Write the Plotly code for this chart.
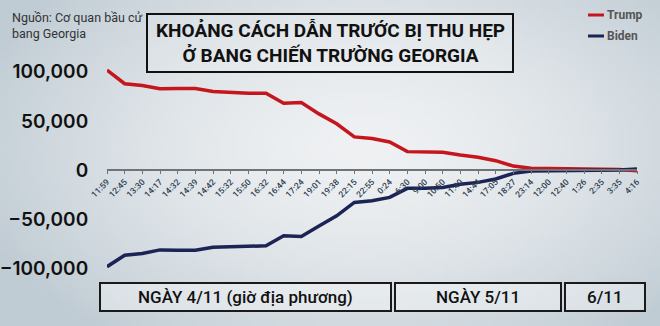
import base64, struct, zlib
import plotly.graph_objects as go

# ---------------- data ----------------
times = ["11:59", "12:45", "13:30", "14:17", "14:32", "14:39", "14:42", "15:32", "15:50",
         "16:32", "16:44", "17:24", "19:01", "19:38", "22:15", "22:55", "0:24", "6:30",
         "9:00", "10:50", "11:40", "14:44", "17:05", "18:27", "23:14", "12:00", "12:40",
         "1:26", "2:35", "3:35", "4:16"]
trump = [101700, 87800, 86000, 82700, 83000, 83000, 79900, 78900, 78200, 78200, 68000,
         68700, 57100, 47000, 33700, 32000, 28500, 18700, 18700, 18000, 15300, 13000,
         9500, 4000, 1700, 1500, 1300, 1000, 700, 400, -700]
biden = [-98400, -86700, -85000, -81300, -81600, -81600, -78600, -77900, -77200, -77200,
         -67000, -67700, -57100, -46600, -33000, -31300, -27900, -18700, -18700, -17700,
         -14600, -12600, -9200, -3400, -1000, -900, -700, -500, -300, -100, 1000]
y_ticks = [100000, 50000, 0, -50000, -100000]
day_labels = ["NGÀY 4/11 (giờ địa phương)", "NGÀY 5/11", "6/11"]

W, H = 660, 326
L, R, T, B = 107, 23, 57, 43
PW, PH = W - L - R, H - T - B


def px(x):
    return (x - L) / PW


def py(y):
    return 1 - (y - T) / PH


# ---------------- background gradient image ----------------
def gradient_png(w, h):
    rows = b""
    for j in range(h):
        rows += b"\x00"
        for i in range(w):
            dx = (i / (w - 1) - 0.55) / 0.62
            dy = (j / (h - 1) - 0.45) / 0.75
            d = min(1.0, (dx * dx + dy * dy) ** 0.5)
            d = d ** 1.6
            c0 = (239, 241, 243)
            c1 = (192, 204, 212)
            rows += bytes(int(c0[k] + (c1[k] - c0[k]) * d) for k in range(3))

    def chunk(tag, data):
        return struct.pack(">I", len(data)) + tag + data + struct.pack(">I", zlib.crc32(tag + data) & 0xffffffff)

    png = b"\x89PNG\r\n\x1a\n" + chunk(b"IHDR", struct.pack(">IIBBBBB", w, h, 8, 2, 0, 0, 0))
    png += chunk(b"IDAT", zlib.compress(rows, 9)) + chunk(b"IEND", b"")
    return "data:image/png;base64," + base64.b64encode(png).decode()


fig = go.Figure()
fig.add_trace(go.Scatter(x=times, y=trump, mode="lines", name="Trump",
                         line=dict(color="#c4161c", width=3.5)))
fig.add_trace(go.Scatter(x=times, y=biden, mode="lines", name="Biden",
                         line=dict(color="#1b2455", width=3.5)))

fig.update_layout(
    width=W, height=H,
    margin=dict(l=L, r=R, t=T, b=B, autoexpand=False),
    paper_bgcolor="#e4e8eb",
    plot_bgcolor="rgba(0,0,0,0)",
    showlegend=False,
    images=[dict(source=gradient_png(132, 66), xref="paper", yref="paper",
                 x=px(0), y=py(0), sizex=W / PW, sizey=H / PH,
                 xanchor="left", yanchor="top", sizing="stretch", layer="below")],
    xaxis=dict(type="category", range=[0, len(times) - 1], anchor="free", position=0.5,
               showline=True, linecolor="#6f7479", linewidth=1.5,
               ticks="outside", ticklen=3, tickcolor="#6f7479", tickangle=-45,
               tickfont=dict(family="Roboto", size=8.5, color="#2c3e50", weight=500),
               showgrid=False, zeroline=False, automargin=False),
    yaxis=dict(range=[-115000, 115000], tickvals=y_ticks, tickformat=",",
               showgrid=False, zeroline=False, showline=False,
               ticks="outside", ticklen=14, tickcolor="rgba(0,0,0,0)",
               tickfont=dict(family="Inter", size=19, color="#111111", weight=600),
               automargin=False),
)

shapes = []
annotations = []

# title box
shapes.append(dict(type="rect", xref="paper", yref="paper", x0=px(147), x1=px(513),
                   y0=py(14), y1=py(72), line=dict(color="#111111", width=2),
                   fillcolor="rgba(255,255,255,0.15)"))
annotations.append(dict(xref="paper", yref="paper", x=px(330), y=py(43),
                        text="KHOẢNG CÁCH DẪN TRƯỚC BỊ THU HẸP<br>Ở BANG CHIẾN TRƯỜNG GEORGIA",
                        showarrow=False, xanchor="center", yanchor="middle",
                        font=dict(family="Roboto", size=19, color="#111111", weight=700)))

# source
annotations.append(dict(xref="paper", yref="paper", x=px(10), y=py(8),
                        text="Nguồn: Cơ quan bầu cử<br>bang Georgia", align="left",
                        showarrow=False, xanchor="left", yanchor="top",
                        font=dict(family="Roboto", size=12.5, color="#333333")))

# manual legend
for k, (nm, col) in enumerate([("Trump", "#c4161c"), ("Biden", "#1b2455")]):
    yy = 15 + 21 * k
    shapes.append(dict(type="line", xref="paper", yref="paper", x0=px(588), x1=px(604),
                       y0=py(yy), y1=py(yy), line=dict(color=col, width=3)))
    annotations.append(dict(xref="paper", yref="paper", x=px(605), y=py(yy), text=nm,
                            showarrow=False, xanchor="left", yanchor="middle",
                            font=dict(family="Roboto", size=12, color="#555555", weight=700)))

# day boxes
boxes = [(100, 391), (395, 561), (565, 645)]
for (x0, x1), lab in zip(boxes, day_labels):
    shapes.append(dict(type="rect", xref="paper", yref="paper", x0=px(x0), x1=px(x1),
                       y0=py(283), y1=py(311), line=dict(color="#1a1a1a", width=2),
                       fillcolor="rgba(255,255,255,0.35)"))
    annotations.append(dict(xref="paper", yref="paper", x=px((x0 + x1) / 2), y=py(297),
                            text=lab, showarrow=False, xanchor="center", yanchor="middle",
                            font=dict(family="Roboto", size=17, color="#111111", weight=500)))

fig.update_layout(shapes=shapes, annotations=annotations)
fig.write_html("out.html")
